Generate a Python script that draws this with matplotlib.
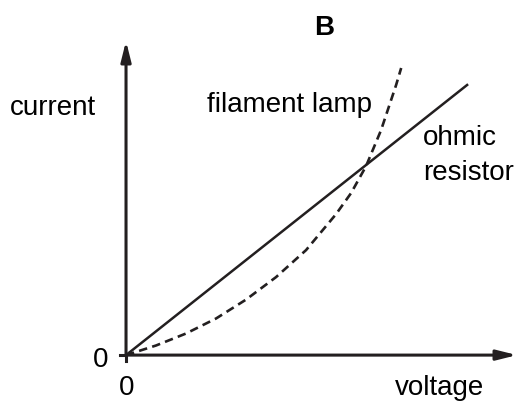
import matplotlib.pyplot as plt

plt.rcParams["font.family"] = ["Liberation Sans", "DejaVu Sans"]

# readings in arbitrary units (voltage, current)
ohmic_voltage = [0.0, 11.4]
ohmic_current = [0.0, 9.03]

lamp_voltage = [0.0, 1.0, 2.0, 3.0, 4.0, 5.0, 6.0, 7.0, 7.5, 8.0, 8.5, 9.0, 9.17]
lamp_current = [0.0, 0.32, 0.72, 1.22, 1.85, 2.6, 3.5, 4.7, 5.4, 6.3, 7.5, 9.0, 9.57]

X_MAX, Y_MAX = 13.03, 10.47
INK = "#231f20"


def main():
    fig = plt.figure(figsize=(5.17, 4.02), dpi=100)
    ax = fig.add_axes([0, 0, 1, 1])
    ax.set_xlim(-4.2, 13.03)
    ax.set_ylim(-1.53, 11.87)
    ax.axis("off")

    # axes with arrow heads
    arrow = dict(arrowstyle="-|>,head_length=1.2,head_width=0.3",
                 lw=2.2, color=INK, shrinkA=0, shrinkB=0)
    ax.annotate("", xy=(0, Y_MAX), xytext=(0, 0), arrowprops=arrow,
                annotation_clip=False)
    ax.annotate("", xy=(X_MAX, 0), xytext=(0, 0), arrowprops=arrow,
                annotation_clip=False)
    ax.plot([-0.2, 0], [0, 0], color=INK, lw=2.2)
    ax.plot([0, 0], [-0.2, 0], color=INK, lw=2.2)

    ax.plot(ohmic_voltage, ohmic_current, color=INK, lw=1.8, solid_capstyle="butt")
    ax.plot(lamp_voltage, lamp_current, color=INK, lw=1.9,
            linestyle=(0, (3.2, 2.0)))

    fs = 20
    ax.text(6.6, 10.7, "B", fontsize=fs, fontweight="bold", ha="center", va="baseline")
    ax.text(-3.87, 8.03, "current", fontsize=fs, ha="left", va="baseline")
    ax.text(2.7, 8.13, "filament lamp", fontsize=fs, ha="left", va="baseline")
    ax.text(9.9, 7.03, "ohmic", fontsize=fs, ha="left", va="baseline")
    ax.text(9.9, 5.87, "resistor", fontsize=fs, ha="left", va="baseline")
    ax.text(8.97, -1.3, "voltage", fontsize=fs, ha="left", va="baseline")
    ax.text(-0.6, -0.37, "0", fontsize=fs, ha="right", va="baseline")
    ax.text(0.03, -1.3, "0", fontsize=fs, ha="center", va="baseline")

    fig.savefig("out.png", dpi=100)


if __name__ == "__main__":
    main()
